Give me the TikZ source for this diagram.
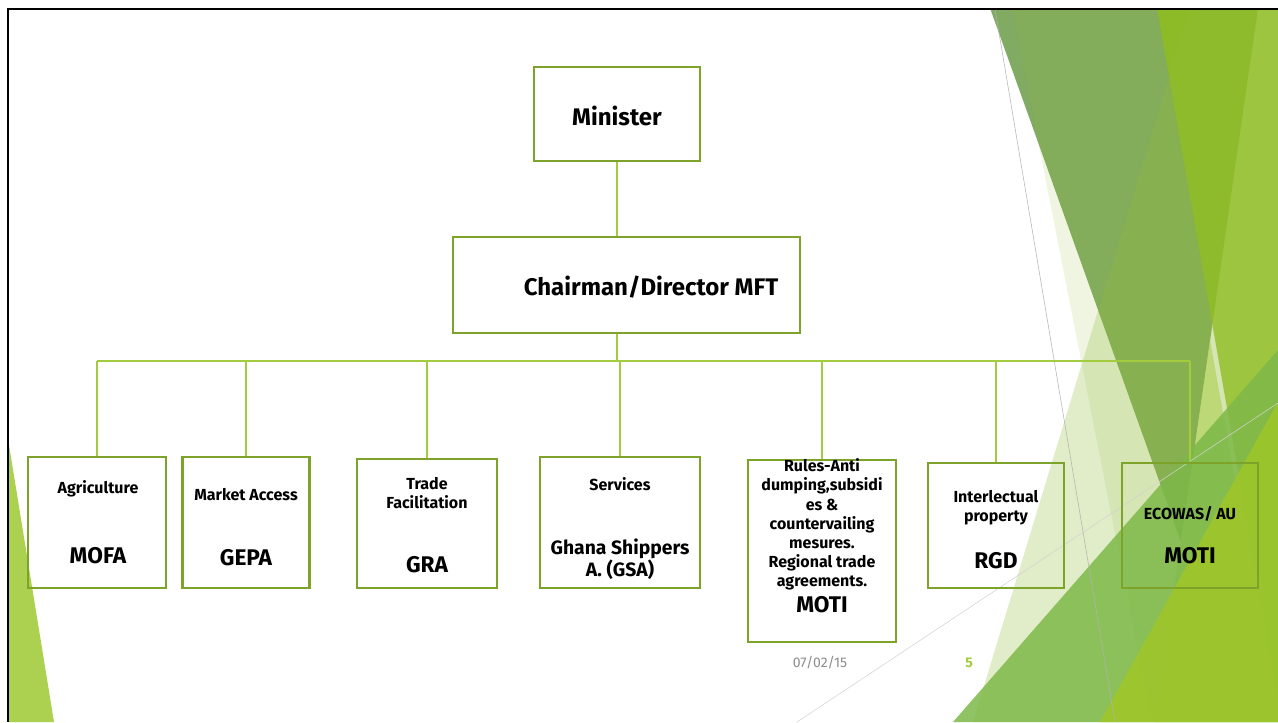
\documentclass[tikz,border=0pt]{standalone}
\usepackage{fontspec}
\setmainfont{Fira Sans}
\usetikzlibrary{positioning}
\definecolor{boxgreen}{RGB}{125,163,42}
\definecolor{linkgreen}{RGB}{163,203,62}
\definecolor{darkleaf}{RGB}{129,170,98}
\definecolor{brightleaf}{RGB}{144,191,26}
\definecolor{paleleaf}{RGB}{146,187,56}
\definecolor{midleaf}{RGB}{125,184,72}
\definecolor{limeleaf}{RGB}{158,198,42}
\definecolor{lightleaf}{RGB}{172,208,80}
\definecolor{footgray}{RGB}{140,140,140}

\begin{document}
\begin{tikzpicture}[x=0.75pt,y=-0.75pt]
\tikzset{unit box/.style 2 args={rectangle,draw=boxgreen,line width=1.9pt,minimum width=#1*0.75pt,minimum height=#2*0.75pt,inner sep=0pt},
  link/.style={draw=linkgreen,line width=1.1pt},
  head/.style={font=\fontsize{18}{21}\selectfont\bfseries},
  lbl/.style={font=\fontsize{12}{14.4}\selectfont\bfseries,align=center,inner sep=0pt},
  code/.style={font=\fontsize{17}{16.5}\selectfont\bfseries,align=center,inner sep=0pt}}
\useasboundingbox (0,0) rectangle (1278,722);
% Fondo
\fill[lightleaf] (9,445) -- (54,722) -- (9,722) -- cycle;
\fill[darkleaf] (990,8) -- (1258,8) -- (1181,542) -- cycle;
\fill[paleleaf,opacity=0.15] (1012,8) -- (1278,8) -- (1278,722) -- (1152,722) -- cycle;
\fill[brightleaf,opacity=0.8] (1157,8) -- (1278,8) -- (1278,700) -- cycle;
\fill[paleleaf,opacity=0.28] (1190,8) -- (1278,8) -- (1278,722) -- (973,722) -- cycle;
\fill[lightleaf,opacity=0.6] (1210,340) -- (1278,722) -- (1155,722) -- cycle;
\fill[midleaf,opacity=0.85] (953,722) -- (1278,350) -- (1278,722) -- cycle;
\fill[limeleaf,opacity=0.9] (1100,722) -- (1278,402) -- (1278,722) -- cycle;
\draw[gray!60,line width=0.4pt] (995,9) -- (1115,722);
\draw[gray!35,line width=0.4pt] (797,722) -- (1278,403);
\draw[black,line width=2.2pt] (8,722) -- (8,9) -- (1278,9);
% Nodos
\node[unit box={166}{94}] (minister) at (617,114) {};
\node[head] (ministerT) at (617,116) {Minister};
\node[unit box={347}{96}] (chair) at (626.5,285) {};
\node[head] (chairT) at (651,287) {Chairman/Director MFT};
\node[unit box={138}{131}] (agri) at (97,522.5) {};
\node[lbl] (agriT) at (98,489) {Agriculture};
\node[code] (agriC) at (98,556) {MOFA};
\node[unit box={127}{131}] (market) at (246,522.5) {};
\node[lbl] (marketT) at (246,495) {Market Access};
\node[code] (marketC) at (246,558) {GEPA};
\node[unit box={140}{129}] (trade) at (427,523.5) {};
\node[lbl] (tradeT) at (427,493) {Trade\\Facilitation};
\node[code] (tradeC) at (427,565) {GRA};
\node[unit box={160}{131}] (serv) at (620,522.5) {};
\node[lbl] (servT) at (620,484) {Services};
\node[code,font=\fontsize{14.5}{16.5}\selectfont\bfseries] (servC) at (620,559) {Ghana Shippers\\A. (GSA)};
\node[unit box={148}{182}] (rules) at (822,551) {};
\node[lbl] (rulesT) at (822,524.5) {Rules-Anti\\dumping,subsidi\\es \&\\countervailing\\mesures.\\Regional trade\\agreements.};
\node[code] (rulesC) at (822,605) {MOTI};
\node[unit box={136}{125}] (interl) at (996,525.5) {};
\node[lbl] (interlT) at (996,508) {Interlectual\\property};
\node[code] (interlC) at (996,561) {RGD};
\node[unit box={136}{125}] (ecowas) at (1190,525.5) {};
\node[lbl] (ecowasT) at (1190,514) {ECOWAS/ AU};
\node[code] (ecowasC) at (1190,556) {MOTI};
\node[font=\fontsize{10.5}{12}\selectfont,text=footgray] (date) at (820,663) {07/02/15};
\node[font=\fontsize{10.5}{12}\selectfont\bfseries,text=linkgreen] (page) at (969,663) {5};
% Lineas
\coordinate (bus) at (617,361);
\draw[link] (minister.south) -- (minister.south |- chair.north);
\draw[link] (bus |- chair.south) -- (bus);
\draw[link] (bus -| agri.north) -- (bus -| ecowas.north);
\foreach \b in {agri,market,trade,serv,rules,interl,ecowas}
  \draw[link] (bus -| \b.north) -- (\b.north);
\end{tikzpicture}
\end{document}
